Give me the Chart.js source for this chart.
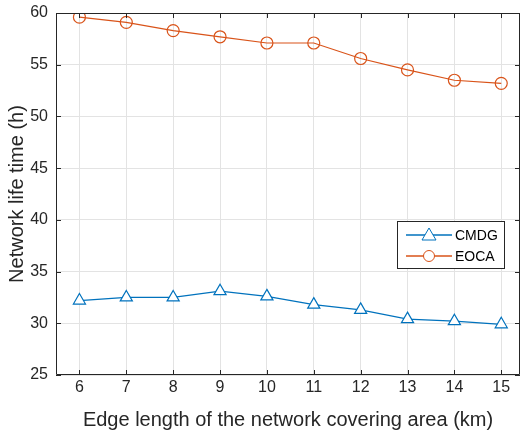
<!DOCTYPE html>
<html>

<head>
  <meta charset="utf-8">
  <title>Network life time</title>
  <script src="https://cdn.jsdelivr.net/npm/chart.js@4.4.1/dist/chart.umd.min.js"></script>
  <style>
    html,
    body {
      margin: 0;
      padding: 0;
      background: #fff;
    }

    #wrap {
      position: relative;
      width: 522px;
      height: 434px;
    }
  </style>
</head>

<body>
  <div id="wrap"><canvas id="chartJSContainer"></canvas></div>
  <script>
    // edge length of the covering area (km)
    var edgeLengths = [6, 7, 8, 9, 10, 11, 12, 13, 14, 15];
    // network life time (h)
    var cmdgLife = [32.2, 32.5, 32.5, 33.1, 32.6, 31.8, 31.3, 30.4, 30.2, 29.9];
    var eocaLife = [59.6, 59.1, 58.3, 57.7, 57.1, 57.1, 55.6, 54.5, 53.5, 53.2];
    var yTicks = [25, 30, 35, 40, 45, 50, 55, 60];

    var blue = '#0072BD';
    var orange = '#D95319';
    var font = 'Arial, "Liberation Sans", Helvetica, sans-serif';

    function toPoints(vals) {
      return edgeLengths.map(function (x, i) { return { x: x, y: vals[i] }; });
    }

    // box around the plot area with inward ticks on all four sides
    var boxPlugin = {
      id: 'box',
      afterDatasetsDraw: function (chart) {
        var c = chart.ctx, a = chart.chartArea;
        var xs = chart.scales.x, ys = chart.scales.y;
        c.save();
        c.strokeStyle = '#262626';
        c.lineWidth = 1;
        c.beginPath();
        c.rect(a.left + 0.5, a.top + 0.5, a.right - a.left - 1, a.bottom - a.top - 1);
        edgeLengths.forEach(function (v) {
          var px = Math.round(xs.getPixelForValue(v)) + 0.5;
          c.moveTo(px, a.bottom); c.lineTo(px, a.bottom - 5);
          c.moveTo(px, a.top); c.lineTo(px, a.top + 5);
        });
        yTicks.forEach(function (v) {
          var py = Math.round(ys.getPixelForValue(v)) + 0.5;
          c.moveTo(a.left, py); c.lineTo(a.left + 5, py);
          c.moveTo(a.right, py); c.lineTo(a.right - 5, py);
        });
        c.stroke();
        c.restore();
      }
    };

    // legend box inside the plot, bottom right
    var legendPlugin = {
      id: 'boxLegend',
      afterDraw: function (chart) {
        var c = chart.ctx;
        var x0 = 397, y0 = 221, w = 107, h = 47;
        c.save();
        c.fillStyle = '#fff';
        c.fillRect(x0, y0, w, h);
        c.strokeStyle = '#262626';
        c.lineWidth = 1;
        c.strokeRect(x0 + 0.5, y0 + 0.5, w, h);
        chart.data.datasets.forEach(function (ds, i) {
          var cy = y0 + 14 + i * 21;
          c.strokeStyle = ds.borderColor;
          c.lineWidth = 1.5;
          c.beginPath();
          c.moveTo(x0 + 9, cy); c.lineTo(x0 + 55, cy);
          c.stroke();
          c.lineWidth = 1;
          c.beginPath();
          if (ds.pointStyle === 'triangle') {
            c.moveTo(x0 + 32, cy - 7);
            c.lineTo(x0 + 39, cy + 5);
            c.lineTo(x0 + 25, cy + 5);
            c.closePath();
          } else {
            c.arc(x0 + 32, cy, 5.5, 0, Math.PI * 2);
          }
          c.fillStyle = '#fff';
          c.fill();
          c.stroke();
          c.fillStyle = '#000';
          c.font = '14px ' + font;
          c.textBaseline = 'middle';
          c.fillText(ds.label, x0 + 58, cy + 1);
        });
        c.restore();
      }
    };

    var options = {
      type: 'line',
      data: {
        datasets: [{
          label: 'CMDG',
          data: toPoints(cmdgLife),
          borderColor: blue,
          backgroundColor: '#fff',
          borderWidth: 1.2,
          pointStyle: 'triangle',
          pointRadius: 7,
          pointBorderWidth: 1.2,
          tension: 0
        }, {
          label: 'EOCA',
          data: toPoints(eocaLife),
          borderColor: orange,
          backgroundColor: 'rgba(0,0,0,0)',
          borderWidth: 1.2,
          pointStyle: 'circle',
          pointRadius: 6,
          pointBorderWidth: 1.2,
          tension: 0
        }]
      },
      options: {
        responsive: true,
        maintainAspectRatio: false,
        animation: false,
        layout: {
          autoPadding: false,
          padding: { top: 13, right: 2, left: 0, bottom: 0 }
        },
        scales: {
          x: {
            type: 'linear',
            min: 5.5,
            max: 15.4,
            afterFit: function (s) {
              s.height = 59;
              s.paddingLeft = 0;
              s.paddingRight = 0;
            },
            afterBuildTicks: function (s) {
              s.ticks = edgeLengths.map(function (v) { return { value: v }; });
            },
            grid: { color: '#e3e3e3', drawTicks: false },
            border: { display: false },
            ticks: {
              padding: 3,
              color: '#262626',
              font: { family: font, size: 16 }
            },
            title: {
              display: true,
              text: 'Edge length of the network covering area (km)',
              color: '#262626',
              font: { family: font, size: 20 },
              padding: { top: 0, bottom: 2 }
            }
          },
          y: {
            min: 25,
            max: 60,
            afterFit: function (s) {
              s.width = 56;
              s.paddingTop = 0;
              s.paddingBottom = 0;
            },
            afterBuildTicks: function (s) {
              s.ticks = yTicks.map(function (v) { return { value: v }; });
            },
            grid: { color: '#e3e3e3', drawTicks: false },
            border: { display: false },
            ticks: {
              padding: 8,
              color: '#262626',
              font: { family: font, size: 16 }
            },
            title: {
              display: true,
              text: 'Network life time (h)',
              color: '#262626',
              font: { family: font, size: 20 },
              padding: { top: 5, bottom: 0 }
            }
          }
        },
        plugins: {
          legend: { display: false },
          tooltip: { enabled: false }
        }
      },
      plugins: [boxPlugin, legendPlugin]
    };

    var ctx = document.getElementById('chartJSContainer').getContext('2d');
    window.test = new Chart(ctx, options);
  </script>
</body>

</html>
